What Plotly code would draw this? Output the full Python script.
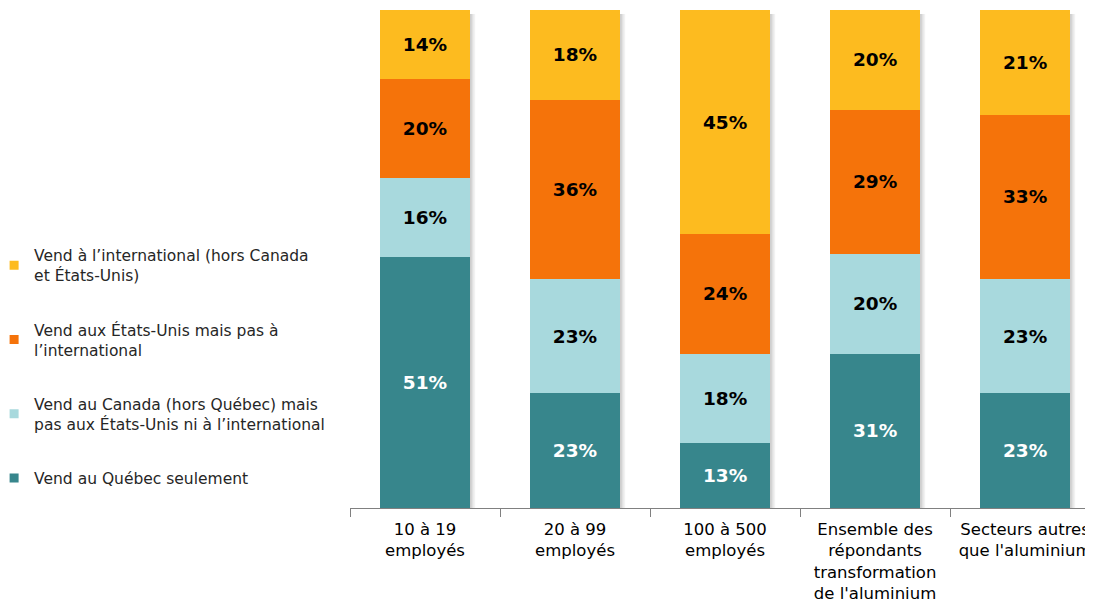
import plotly.graph_objects as go

categories = ["10 à 19<br>employés", "20 à 99<br>employés", "100 à 500<br>employés",
              "Ensemble des<br>répondants<br>transformation<br>de l'aluminium",
              "Secteurs autres<br>que l'aluminium"]
quebec = [51, 23, 13, 31, 23]
canada = [16, 23, 18, 20, 23]
usa = [20, 36, 24, 29, 33]
international = [14, 18, 45, 20, 21]

series = [
    ("Vend au Québec seulement", quebec, "#37868C", "white"),
    ("Vend au Canada (hors Québec) mais<br>pas aux États-Unis ni à l’international", canada, "#A8D9DD", "black"),
    ("Vend aux États-Unis mais pas à<br>l’international", usa, "#F5730A", "black"),
    ("Vend à l’international (hors Canada<br>et États-Unis)", international, "#FDBB1F", "black"),
]

FONT = "DejaVu Sans"
BAR_WIDTH = 0.6
fig = go.Figure()
for i, (name, vals, color, tcolor) in enumerate(series):
    fig.add_trace(go.Bar(
        x=categories, y=vals, name=name, marker_color=color,
        marker_line_width=0, showlegend=False, width=BAR_WIDTH,
        text=[f"{v}%" for v in vals], textposition="inside",
        insidetextanchor="middle", constraintext="none",
        textfont=dict(family=FONT, size=18.5, color=tcolor, weight="bold"),
    ))
# legend entries with small square markers (top of stack listed first)
for i, (name, vals, color, tcolor) in enumerate(reversed(series)):
    fig.add_trace(go.Scatter(
        x=[None], y=[None], mode="markers", name=name, legendgroup=f"g{i}",
        marker=dict(symbol="square", size=9, color=color),
    ))

# soft shadow on the right side of each bar
px_per_cat = 150.0
for ci in range(len(categories)):
    right = ci + BAR_WIDTH / 2
    for k, op in enumerate([0.30, 0.18, 0.08]):
        fig.add_shape(type="rect", xref="x", yref="y",
                      x0=right + k * 1.7 / px_per_cat, x1=right + (k + 1) * 1.7 / px_per_cat,
                      y0=0, y1=99.2, line_width=0, fillcolor=f"rgba(90,90,90,{op})",
                      layer="below")

fig.update_layout(
    barmode="stack", barnorm="percent",
    width=1093, height=612,
    margin=dict(l=342, r=8, t=2, b=112, autoexpand=False),
    plot_bgcolor="white", paper_bgcolor="white",
    font=dict(family=FONT, size=16, color="#000000"),
    legend=dict(
        traceorder="grouped", tracegroupgap=31,
        x=-0.479, xanchor="left", y=0.541, yanchor="top",
        font=dict(family=FONT, size=15.5, color="#262626"),
        itemwidth=30,
    ),
)
fig.update_xaxes(
    range=[-0.5, 4.453], showline=True, linecolor="#808080", linewidth=1,
    ticks="outside", tickson="boundaries", ticklen=8, tickcolor="#808080",
    tickfont=dict(family=FONT, size=16.5, color="#000000"),
    ticklabelstandoff=6,
)
fig.update_yaxes(range=[0, 100], visible=False)

fig.write_html("out.html")
